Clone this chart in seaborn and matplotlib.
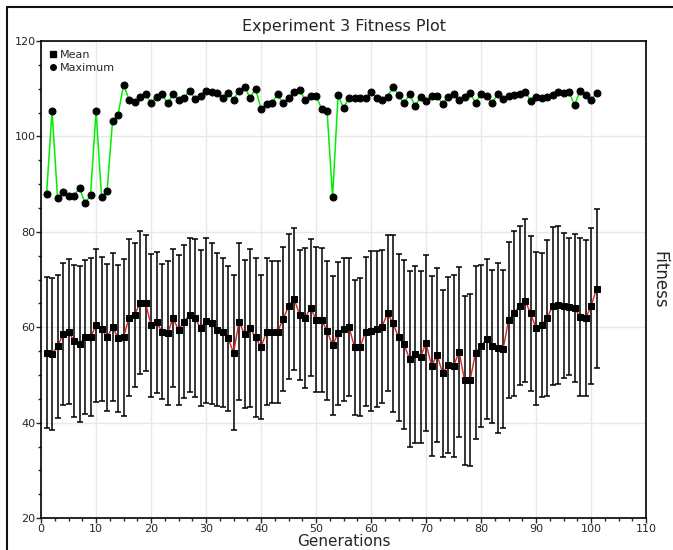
import matplotlib
matplotlib.use("Agg")
import matplotlib.pyplot as plt
from matplotlib.lines import Line2D
from matplotlib.ticker import MultipleLocator
import seaborn as sns

generations = list(range(1, 102))

mean_fitness = [
    54.7, 54.4, 56.0, 58.5, 59.1, 57.1, 56.5, 57.9, 57.9, 60.4,
    59.6, 57.9, 60.1, 57.7, 57.9, 62.0, 62.6, 65.1, 65.1, 60.4,
    61.0, 59.1, 58.7, 61.9, 59.4, 61.2, 62.6, 61.9, 59.8, 61.4,
    60.8, 59.5, 58.9, 57.7, 54.7, 61.2, 58.5, 59.8, 57.9, 55.8,
    59.1, 59.0, 59.0, 61.7, 64.4, 66.0, 62.6, 61.9, 64.1, 61.6,
    61.5, 59.3, 56.2, 58.7, 59.6, 60.0, 55.8, 55.8, 59.1, 59.2,
    59.6, 60.1, 63.0, 60.8, 57.9, 56.4, 53.3, 54.3, 53.8, 56.7,
    51.9, 54.2, 50.4, 52.1, 51.9, 54.8, 48.9, 48.9, 54.7, 56.0,
    57.5, 56.0, 55.6, 55.4, 61.5, 62.9, 64.5, 65.6, 62.9, 59.8,
    60.4, 61.9, 64.5, 64.7, 64.5, 64.3, 64.0, 62.2, 61.9, 64.4,
    68.1,
]

std_fitness = [
    15.9, 15.9, 15.0, 14.9, 15.1, 15.9, 16.4, 16.1, 16.6, 16.0,
    15.1, 15.4, 15.5, 15.4, 16.5, 16.4, 15.1, 15.0, 14.2, 15.0,
    14.7, 14.1, 15.1, 14.5, 15.8, 16.0, 16.1, 16.6, 16.3, 17.3,
    16.9, 16.1, 15.6, 15.2, 16.3, 16.4, 15.5, 16.6, 16.7, 15.1,
    15.4, 14.8, 14.8, 15.1, 15.2, 14.9, 13.6, 14.7, 14.4, 15.2,
    15.1, 14.5, 14.5, 15.0, 15.0, 14.5, 14.2, 14.5, 15.6, 16.7,
    16.3, 16.0, 16.3, 18.5, 17.5, 17.7, 18.4, 18.6, 18.0, 18.4,
    18.8, 18.3, 17.5, 18.5, 19.1, 17.9, 17.7, 18.0, 18.1, 17.0,
    16.8, 16.1, 17.8, 16.5, 16.4, 17.3, 16.7, 17.0, 16.2, 16.0,
    15.1, 16.4, 16.6, 16.6, 15.2, 14.4, 15.5, 16.6, 16.3, 16.3,
    16.7,
]

max_fitness = [
    87.9, 105.4, 87.0, 88.3, 87.6, 87.6, 89.2, 86.0, 87.7, 105.4,
    87.2, 88.5, 103.3, 104.5, 110.8, 107.7, 107.2, 108.3, 108.8, 107.1,
    108.3, 108.8, 106.9, 108.8, 107.7, 108.1, 109.6, 107.8, 108.5, 109.6,
    109.3, 109.0, 108.1, 109.2, 107.7, 109.6, 110.4, 108.1, 110.0, 105.7,
    106.8, 107.1, 108.8, 106.9, 108.1, 109.3, 109.7, 107.7, 108.5, 108.5,
    105.8, 105.3, 87.2, 108.6, 106.0, 108.1, 108.0, 108.0, 108.0, 109.3,
    108.1, 107.6, 108.3, 110.4, 108.6, 106.9, 108.9, 106.3, 108.3, 107.4,
    108.5, 108.5, 106.8, 108.2, 108.8, 107.7, 108.3, 109.0, 107.1, 108.9,
    108.5, 106.9, 108.9, 107.9, 108.5, 108.6, 108.9, 109.4, 107.5, 108.3,
    108.0, 108.3, 108.6, 109.3, 109.1, 109.3, 106.5, 109.6, 108.6, 107.7,
    109.1,
]

sns.set_style("ticks")
plt.rcParams["font.family"] = ["DejaVu Sans"]

fig = plt.figure(figsize=(6.73, 5.5), dpi=100)
ax = fig.add_axes([0.061, 0.058, 0.899, 0.8675])

# frame round the figure (only top and left show)
fig.add_artist(Line2D([0.0104, 1.0], [0.987, 0.987], transform=fig.transFigure, color="#111111", lw=1.5))
fig.add_artist(Line2D([0.0104, 0.0104], [0.0, 0.987], transform=fig.transFigure, color="#111111", lw=1.5))

ax.errorbar(generations, mean_fitness, yerr=std_fitness, fmt="none",
            ecolor="black", elinewidth=1.1, capsize=2, capthick=1.1, zorder=2)
sns.lineplot(x=generations, y=mean_fitness, ax=ax, color="#e0201b", lw=1,
             marker="s", markersize=4.5, markerfacecolor="black",
             markeredgecolor="black", zorder=3)
sns.lineplot(x=generations, y=max_fitness, ax=ax, color="#00ee00", lw=1.1,
             marker="o", markersize=5, markerfacecolor="black",
             markeredgecolor="black", zorder=3)

ax.set_xlim(0, 110)
ax.set_ylim(20, 120)
ax.xaxis.set_major_locator(MultipleLocator(10))
ax.xaxis.set_minor_locator(MultipleLocator(2.5))
ax.yaxis.set_major_locator(MultipleLocator(20))
ax.yaxis.set_minor_locator(MultipleLocator(5))
ax.tick_params(which="major", length=3.5, width=1, labelsize=8, pad=0.5, direction="out")
ax.tick_params(which="minor", length=2.5, width=1, direction="out")
ax.grid(True, which="major", color="#e8e8e8", lw=1)
ax.set_axisbelow(True)
for s in ax.spines.values():
    s.set_color("black")
    s.set_linewidth(1.2)

ax.set_title("Experiment 3 Fitness Plot", fontsize=11.5, pad=7)
ax.set_xlabel("Generations", fontsize=11, labelpad=0)
ax.yaxis.set_label_position("right")
ax.set_ylabel("Fitness", fontsize=12, rotation=270, labelpad=16)

handles = [
    Line2D([], [], ls="none", marker="s", color="black", markersize=4),
    Line2D([], [], ls="none", marker="o", color="black", markersize=4),
]
ax.legend(handles, ["Mean", "Maximum"], loc="upper left", frameon=False,
          fontsize=8, handlelength=0.6, handletextpad=0.3, labelspacing=0.3,
          borderaxespad=0.4)

fig.savefig("out.png", dpi=100)
